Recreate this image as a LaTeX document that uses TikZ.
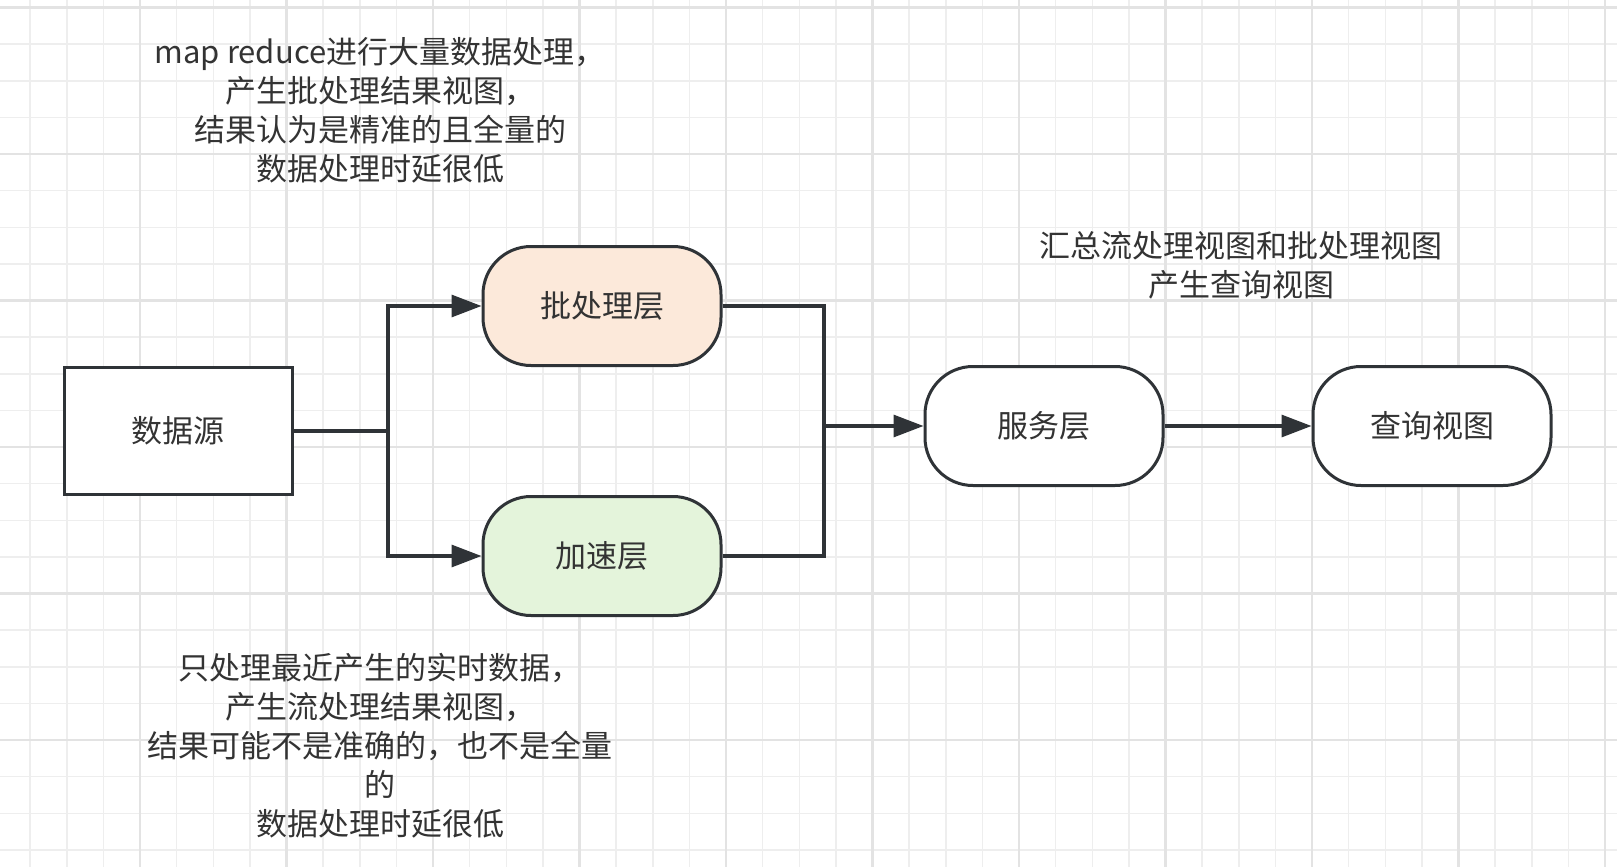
\documentclass[tikz,border=0pt]{standalone}
\usepackage{fontspec}
\newfontfamily\cjk{Noto Sans CJK SC}
\usetikzlibrary{arrows.meta}

\definecolor{gridminor}{HTML}{EEEEEE}
\definecolor{gridmajor}{HTML}{E3E3E3}
\definecolor{inkdark}{HTML}{2F3337}
\definecolor{textdark}{HTML}{333333}
\definecolor{batchfill}{HTML}{FCE9DA}
\definecolor{speedfill}{HTML}{E4F4DB}

\begin{document}
\begin{tikzpicture}[x=0.5pt, y=-0.5pt,
    txt/.style={font=\cjk\fontsize{15.5pt}{19.5pt}\selectfont, text=textdark},
    srcbox/.style={txt, draw=inkdark, line width=1.5pt, fill=white,
        minimum width=114pt, minimum height=63.5pt},
    layerbox/.style={txt, draw=inkdark, line width=1.5pt, fill=white,
        rounded corners=24pt, minimum width=119pt, minimum height=59.5pt},
    note/.style={txt, align=center, inner sep=0pt},
    link/.style={draw=inkdark, line width=1.6pt},
    flow/.style={link, -{Triangle[length=15pt, width=11pt]}}]
    \useasboundingbox (0,0) rectangle (1617,867);

    % Background grid
    \fill[white] (0,0) rectangle (1617,867);
    \foreach \i in {0,...,45}
        \draw[gridminor, line width=0.75pt] ({-6.5+36.625*\i},0) -- ({-6.5+36.625*\i},867);
    \foreach \j in {0,...,23}
        \draw[gridminor, line width=0.75pt] (0,{7.5+36.625*\j}) -- (1617,{7.5+36.625*\j});
    \foreach \i in {0,...,11}
        \draw[gridmajor, line width=1.25pt] ({-6.5+146.5*\i},0) -- ({-6.5+146.5*\i},867);
    \foreach \j in {0,...,5}
        \draw[gridmajor, line width=1.25pt] (0,{7.5+146.5*\j}) -- (1617,{7.5+146.5*\j});

    % Source box
    \node[srcbox] (src) at (178,431) {数据源};

    % Batch and speed layers
    \node[layerbox, fill=batchfill] (batch) at (602,306) {批处理层};
    \node[layerbox, fill=speedfill] (speed) at (602,556) {加速层};

    % Serving layer and query view
    \node[layerbox] (serve) at (1044,426) {服务层};
    \node[layerbox] (query) at (1432,426) {查询视图};

    % Split and merge
    \coordinate (split) at (388,431);
    \coordinate (merge) at (824,426);
    \draw[flow] (src.east) -- (split) |- (batch.west);
    \draw[flow] (src.east) -- (split) |- (speed.west);
    \draw[link] (batch.east) -| (merge);
    \draw[link] (speed.east) -| (merge);
    \draw[flow] (merge) -- (serve.west);
    \draw[flow] (serve.east) -- (query.west);

    % Notes
    \node[note] (notebatch) at (380,110) {map reduce进行大量数据处理，\\产生批处理结果视图，\\结果认为是精准的且全量的\\数据处理时延很低};
    \node[note] (noteserve) at (1241,265) {汇总流处理视图和批处理视图\\产生查询视图};
    \node[note] (notespeed) at (380,746) {只处理最近产生的实时数据，\\产生流处理结果视图，\\结果可能不是准确的，也不是全量\\的\\数据处理时延很低};
\end{tikzpicture}
\end{document}
